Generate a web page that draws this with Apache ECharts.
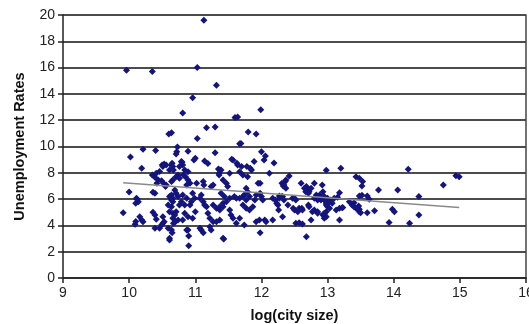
<!DOCTYPE html>
<html><head><meta charset="utf-8">
<script src="https://cdn.jsdelivr.net/npm/echarts@6/dist/echarts.min.js"></script>
<style>html,body{margin:0;padding:0;background:#fff;overflow:hidden;width:529px;height:324px}#c{width:529px;height:324px;position:absolute;left:0;top:0}</style>
</head><body><div id="c"></div>
<script>
var xTicks = [9,10,11,12,13,14,15,16];
var yTicks = [0,2,4,6,8,10,12,14,16,18,20];
var cityX = [
9.96,10.35,11.13,11.03,11.32,10.96,10.81,11.99,11.6,11.64,10.6,10.64,11.17,11.3,11.03,11.8,11.92,11.67,11.69,
10.02,10.21,10.4,10.73,10.72,10.71,10.89,11.0,10.98,11.14,11.19,11.3,11.55,11.63,11.7,11.78,11.83,11.89,12.0,12.06,12.04,12.19,
10.5,10.53,10.65,10.64,10.8,10.19,11.35,12.98,13.2,14.22,10.56,10.66,10.67,10.61,10.79,10.81,10.76,10.84,10.89,11.37,11.36,11.57,11.64,11.85,11.67,11.52,11.39,12.12,
10.35,10.39,10.41,10.44,10.42,10.46,10.51,10.49,10.52,10.55,10.56,10.85,10.82,10.74,10.71,10.76,10.66,10.64,10.89,10.92,10.87,11.02,11.12,11.13,11.24,11.27,11.72,11.79,11.42,11.47,11.49,11.95,11.36,11.98,12.31,12.33,12.36,12.42,12.37,12.6,12.68,12.7,12.72,12.75,12.71,12.8,12.92,12.65,13.43,13.48,13.52,13.53,14.75,14.94,14.99,12.37,12.34,
10.0,10.36,10.1,10.12,10.61,10.69,10.71,10.74,10.66,10.64,10.81,10.87,10.79,10.84,10.76,10.96,10.99,10.94,10.92,11.09,11.07,11.12,11.14,11.17,11.27,11.32,11.37,11.42,11.77,11.79,11.74,11.39,11.44,11.52,11.47,11.42,11.37,11.59,11.62,11.67,11.72,11.77,11.82,11.92,12.0,12.02,12.17,11.98,11.72,11.77,11.82,11.87,11.9,10.39,10.64,10.66,10.64,10.61,10.11,10.14,
12.21,12.23,12.27,12.31,12.4,12.47,12.5,12.55,12.61,12.71,12.77,12.8,12.83,12.85,12.88,12.9,12.95,12.95,12.98,13.0,12.98,13.0,13.03,13.07,13.13,13.18,13.22,13.15,13.18,13.18,13.33,13.37,13.4,13.47,13.48,13.5,13.48,13.52,13.6,13.63,13.6,13.71,13.77,13.93,13.98,14.01,14.06,14.24,14.38,14.38,
12.27,12.32,12.34,12.5,12.52,12.8,12.85,12.9,12.95,12.25,12.48,12.57,12.62,12.72,12.85,12.93,12.67,12.93,12.95,13.1,13.05,12.98,13.03,13.23,13.4,13.45,13.48,13.43,12.95,12.98,
9.91,10.09,10.1,10.16,10.19,10.36,10.39,10.41,10.46,10.51,10.59,10.66,10.7,10.67,10.65,10.61,10.89,10.9,10.9,11.09,11.12,11.22,11.27,11.43,10.71,10.69,10.66,10.74,10.84,10.89,10.81,11.0,10.96,11.19,11.22,11.32,11.37,10.64,10.87,11.07,11.24,11.52,11.54,11.57,11.67,11.62,11.74,11.92,11.97,12.05,12.07,12.17,11.98,12.32,12.52,12.57,12.62,12.75,12.68,10.39,10.21,10.51,10.53,10.49,10.59,10.61,12.26,11.42
];
var unempRate = [
15.8,15.7,19.6,16.0,14.65,13.7,12.55,12.8,12.2,12.25,10.95,11.05,11.43,11.48,10.6,11.1,10.95,10.2,10.22,
9.2,9.8,9.7,9.96,9.6,9.43,9.63,9.1,8.97,8.9,8.7,9.53,9.03,8.72,8.47,8.47,8.34,8.85,9.6,9.28,8.97,8.75,
8.6,8.67,8.72,8.57,8.8,8.34,8.29,8.2,8.34,8.27,8.6,8.47,8.21,8.21,8.85,8.6,8.47,8.21,8.08,8.21,7.96,8.97,8.6,8.21,8.08,7.96,8.21,7.96,
7.83,7.66,7.96,7.45,7.2,8.1,8.47,7.4,7.2,6.95,7.07,7.7,7.83,7.83,7.7,7.58,7.45,7.33,7.45,7.2,7.07,7.2,7.33,7.07,6.95,7.07,7.83,7.7,7.45,7.2,6.95,7.2,7.83,7.2,7.2,7.0,7.33,7.76,7.45,7.2,6.95,6.69,6.56,6.82,6.44,7.2,7.07,6.82,7.7,7.58,7.0,7.33,7.07,7.78,7.7,6.82,7.07,
6.54,6.52,5.68,5.98,6.19,6.69,6.44,6.19,6.06,5.93,6.31,6.06,5.8,5.55,5.55,6.44,6.06,5.8,5.55,6.31,6.06,5.8,5.55,5.42,5.55,5.3,5.17,5.42,6.82,6.56,6.31,6.44,6.19,6.06,5.8,5.68,5.42,6.19,6.06,6.06,6.19,5.93,6.19,6.31,6.19,5.93,6.06,6.44,5.55,5.3,5.17,5.42,5.93,6.44,6.31,5.8,5.42,5.04,6.06,5.8,
5.93,5.68,6.24,6.19,5.55,6.06,5.17,5.04,5.3,5.55,5.04,5.17,6.31,5.04,6.31,5.93,4.79,4.54,5.04,5.42,5.68,6.06,5.8,5.68,5.17,5.3,5.35,6.14,6.49,4.41,5.8,5.55,5.73,5.47,5.22,4.97,6.24,6.3,6.24,5.99,4.97,5.12,6.69,4.23,5.22,5.04,6.69,4.16,6.19,4.79,
6.06,6.19,5.93,6.06,5.93,6.06,5.93,6.06,5.93,5.55,5.3,5.3,5.17,5.42,4.92,4.79,6.56,6.56,6.19,6.06,5.93,5.55,5.3,5.37,5.42,5.3,5.04,5.3,4.92,4.66,
4.97,4.08,4.3,4.66,4.41,5.0,3.78,4.46,3.78,4.16,5.55,4.92,4.28,4.16,3.45,2.89,3.65,3.19,2.46,3.65,3.45,3.9,4.28,2.97,5.04,4.79,4.54,4.41,4.92,4.66,4.41,5.04,4.54,4.92,4.54,4.28,4.41,3.65,3.65,3.78,3.65,5.17,4.79,4.54,4.54,4.16,4.03,4.28,4.41,4.41,4.28,4.41,3.45,4.66,4.16,4.21,4.1,4.41,3.14,4.79,4.28,4.66,4.28,4.03,3.78,3.02,5.17,3.02
];
var trendX = [9.91, 14.99];
var trendY = [7.25, 5.37];

var pts = cityX.map(function(x,i){return [x, unempRate[i]];});
var trend = trendX.map(function(x,i){return [x, trendY[i]];});
var font = 'Liberation Sans, Arial, sans-serif';
var chart = echarts.init(document.getElementById('c'), null, {renderer:'canvas', width:529, height:324});
chart.setOption({
  animation:false,
  backgroundColor:'#fff',
  grid:{left:63,right:3,top:15,bottom:46,containLabel:false,outerBoundsMode:'none'},
  xAxis:{
    type:'value', min:xTicks[0], max:xTicks[xTicks.length-1], interval:1,
    name:'log(city size)', nameLocation:'middle', nameGap:30,
    nameTextStyle:{fontFamily:font,fontWeight:'bold',fontSize:14.5,color:'#111'},
    axisLine:{show:true,lineStyle:{color:'#222',width:1.5}},
    axisTick:{show:true,length:5,lineStyle:{color:'#222',width:1.5}},
    axisLabel:{fontFamily:font,fontSize:14,color:'#222',margin:8},
    splitLine:{show:false}
  },
  yAxis:[{
    type:'value', min:yTicks[0], max:yTicks[yTicks.length-1], interval:2,
    name:'Unemployment Rates', nameLocation:'middle', nameGap:36,
    nameTextStyle:{fontFamily:font,fontWeight:'bold',fontSize:14.5,color:'#111'},
    axisLine:{show:true,lineStyle:{color:'#222',width:1.5}},
    axisTick:{show:true,length:5,lineStyle:{color:'#222',width:1.5}},
    axisLabel:{fontFamily:font,fontSize:14,color:'#222',margin:8},
    splitLine:{show:true,lineStyle:{color:'#111',width:1.5}}
  },{
    type:'value', min:yTicks[0], max:yTicks[yTicks.length-1], position:'right',
    axisLine:{show:true,lineStyle:{color:'#444',width:1.5}},
    axisTick:{show:false}, axisLabel:{show:false}, splitLine:{show:false}
  }],
  series:[{
    type:'scatter', data:pts, symbol:'diamond', symbolSize:7,
    itemStyle:{color:'#14147e', opacity:1}
  },{
    type:'line', data:trend, symbol:'none',
    lineStyle:{color:'#8a8a8a',width:1.5}, z:3
  }]
});
</script></body></html>
